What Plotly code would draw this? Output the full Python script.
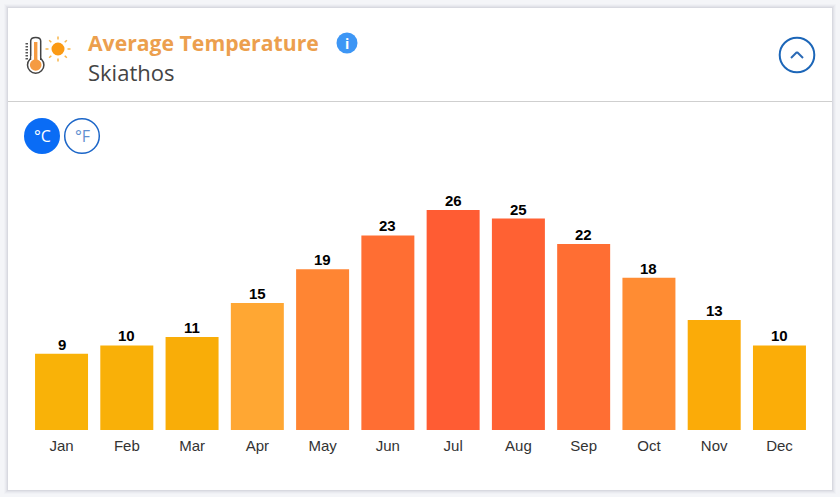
import math
import plotly.graph_objects as go

# Chart data
months = ["Jan", "Feb", "Mar", "Apr", "May", "Jun", "Jul", "Aug", "Sep", "Oct", "Nov", "Dec"]
temps_c = [9, 10, 11, 15, 19, 23, 26, 25, 22, 18, 13, 10]
bar_colors = ["#f9b208", "#f9b008", "#f9ad08", "#ffa733", "#ff8533", "#ff6e33",
              "#ff5c33", "#ff6133", "#ff6e33", "#ff8c33", "#fbab08", "#fbad08"]

W, H = 840, 497


# pixel position -> paper coordinates
def px(x):
    return x / W


def py(y):
    return 1 - y / H


def circle(cx, cy, r, **kw):
    return dict(type="circle", xref="paper", yref="paper", layer="below",
                x0=px(cx - r), x1=px(cx + r), y0=py(cy + r), y1=py(cy - r), **kw)


def line(x0, y0, x1, y1, color, width):
    return dict(type="line", xref="paper", yref="paper", layer="below",
                x0=px(x0), x1=px(x1), y0=py(y0), y1=py(y1),
                line=dict(color=color, width=width))


def rect(x0, y0, x1, y1, **kw):
    return dict(type="rect", xref="paper", yref="paper", layer="below",
                x0=px(x0), x1=px(x1), y0=py(y1), y1=py(y0), **kw)


def label(x, y, text, size, color, family="Open Sans", anchor="left", bold=False):
    if bold:
        text = "<b>" + text + "</b>"
    return dict(xref="paper", yref="paper", x=px(x), y=py(y), text=text, showarrow=False,
                xanchor=anchor, yanchor="middle", borderpad=0,
                font=dict(family=family, size=size, color=color))


shapes = []

# card with a soft shadow
for grow, alpha in [(4, 0.02), (3, 0.03), (2, 0.04), (1, 0.06)]:
    shapes.append(rect(8 - grow, 8 - grow, 832 + grow, 490 + grow,
                       fillcolor=f"rgba(60,60,80,{alpha})", line_width=0))
shapes.append(rect(8, 8, 832, 490, fillcolor="white", line_width=0))
shapes.append(line(8, 101.5, 832, 101.5, "#cfcfcf", 1))

# thermometer icon
for i in range(6):
    shapes.append(rect(25.5, 43 + i * 3, 28, 44.5 + i * 3, fillcolor="#555555", line_width=0))
shapes.append(circle(35.7, 65, 8.2, fillcolor="white", line=dict(color="#444444", width=1.5)))
tube = (f"M{px(30.7)},{py(60)} L{px(30.7)},{py(41)} Q{px(30.7)},{py(37.5)} {px(35.7)},{py(37.5)} "
        f"Q{px(40.7)},{py(37.5)} {px(40.7)},{py(41)} L{px(40.7)},{py(60)}")
shapes.append(rect(31, 55, 40.4, 62, fillcolor="white", line_width=0))
shapes.append(dict(type="path", xref="paper", yref="paper", layer="below", path=tube,
                   fillcolor="white", line=dict(color="#444444", width=1.5)))
shapes.append(rect(31.5, 56, 39.9, 63, fillcolor="white", line_width=0))
shapes.append(circle(35.7, 65, 5.8, fillcolor="#f59b42", line_width=0))
shapes.append(rect(34, 42, 37.4, 64, fillcolor="#f59b42", line_width=0))

# sun icon
for k in range(8):
    a = k * math.pi / 4
    shapes.append(line(58 + 9.5 * math.cos(a), 49 + 9.5 * math.sin(a),
                       58 + 12.5 * math.cos(a), 49 + 12.5 * math.sin(a), "#f9b64a", 1.5))
shapes.append(circle(58, 49, 6.5, fillcolor="#fb9a14", line_width=0))

# info dot, unit buttons, collapse button
shapes.append(circle(347, 43, 10.5, fillcolor="#3d96f5", line_width=0))
shapes.append(circle(42, 136, 18, fillcolor="#0a6cf5", line_width=0))
shapes.append(circle(82, 136, 17.3, fillcolor="white", line=dict(color="#1c66c8", width=1.5)))
shapes.append(circle(797, 55, 17.3, fillcolor="white", line=dict(color="#1c66b8", width=2)))
shapes.append(line(791, 58, 797, 52, "#2a69b5", 2))
shapes.append(line(797, 52, 803, 58, "#2a69b5", 2))

annotations = [
    label(87, 42, "Average Temperature", 21.2, "#ec9f4e", bold=True),
    label(87, 72, "Skiathos", 22, "#444444"),
    label(347, 43, "i", 14, "white", anchor="center", bold=True),
    label(42, 136, "°C", 16, "white", anchor="center"),
    label(82, 136, "°F", 16, "#5f8fd0", anchor="center"),
]

# value labels sit close on top of the bars
for month, temp in zip(months, temps_c):
    annotations.append(dict(x=month, y=temp, xref="x", yref="y", text=f"<b>{temp}</b>",
                            showarrow=False, xanchor="center", yanchor="bottom",
                            yshift=0, borderpad=0,
                            font=dict(family="Liberation Sans", size=15, color="black")))

fig = go.Figure(
    go.Bar(
        x=months,
        y=temps_c,
        marker=dict(color=bar_colors, line_width=0),
        cliponaxis=False,
        hoverinfo="x+y",
    )
)

fig.update_layout(
    width=W,
    height=H,
    margin=dict(l=0, r=0, t=0, b=0),
    paper_bgcolor="#f4f5f8",
    plot_bgcolor="rgba(0,0,0,0)",
    showlegend=False,
    bargap=0.188,
    shapes=shapes,
    annotations=annotations,
    xaxis=dict(
        domain=[px(28.9), px(812.1)],
        showgrid=False,
        zeroline=False,
        showline=False,
        ticks="",
        ticklabelstandoff=5,
        tickfont=dict(family="Liberation Sans", size=15, color="#333333"),
    ),
    yaxis=dict(
        domain=[py(430), py(170)],
        range=[0, 260 / 8.46],
        visible=False,
    ),
)

# drop the default page margin so the fixed-size figure fills the window
fig.write_html("out.html", config=dict(displayModeBar=False),
               post_script="document.body.style.margin='0';")
